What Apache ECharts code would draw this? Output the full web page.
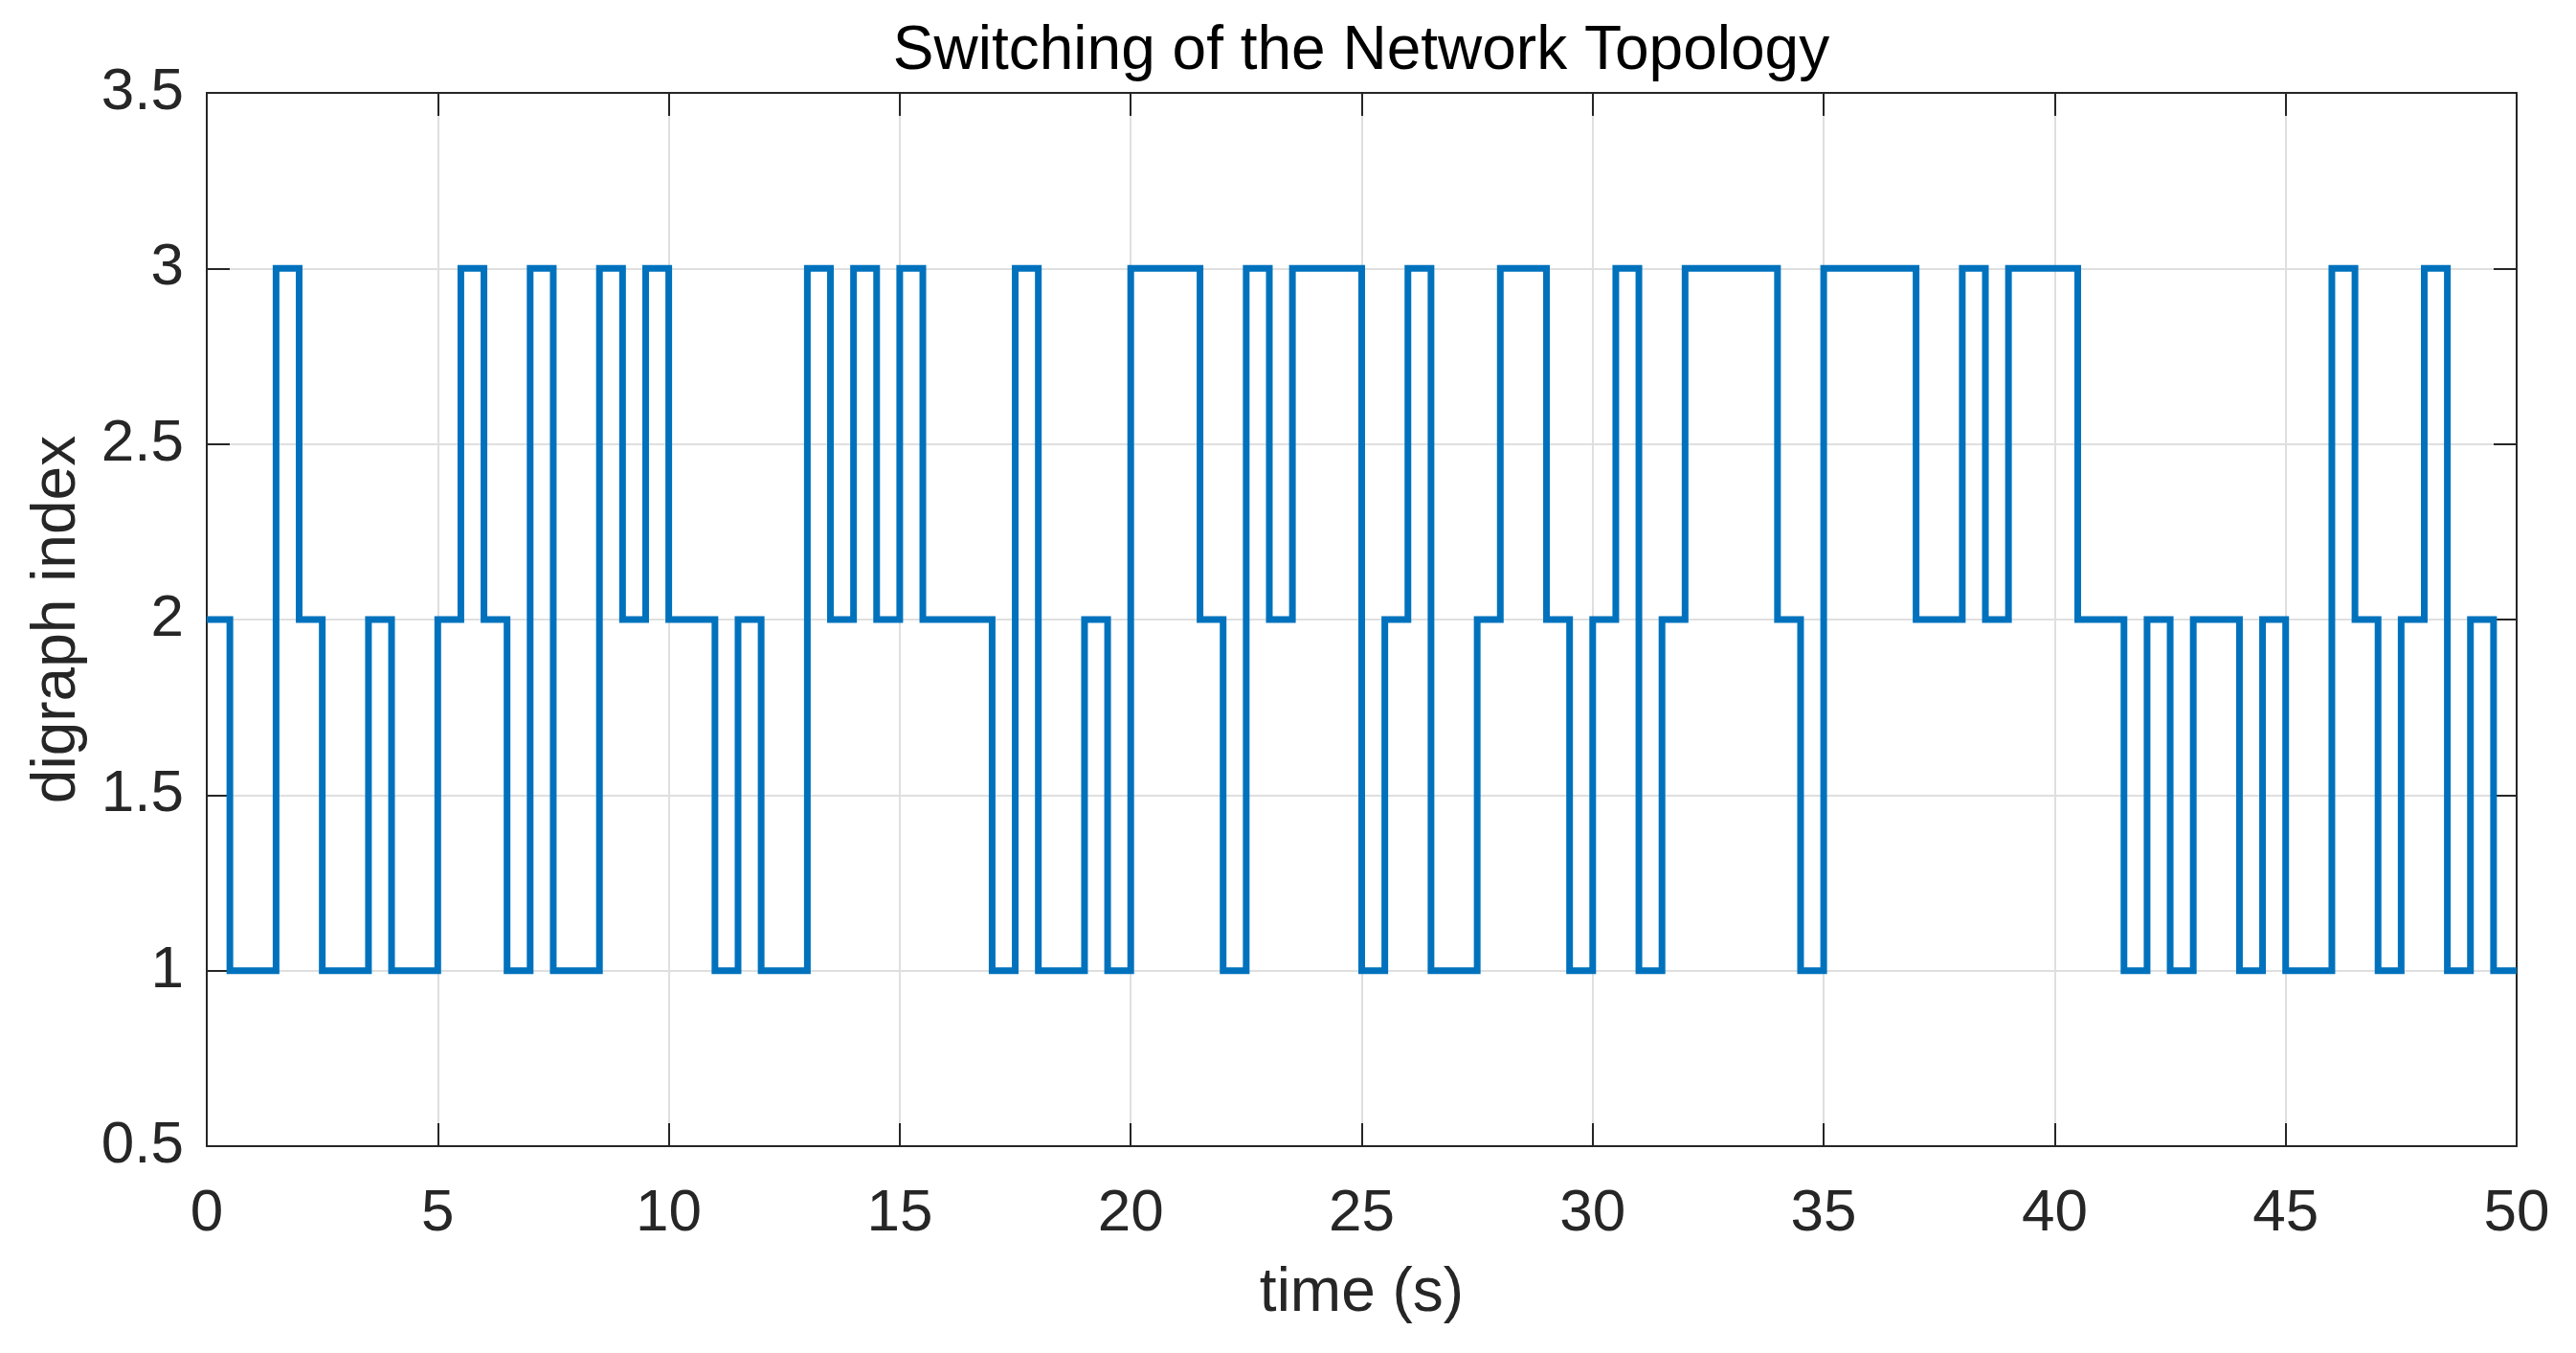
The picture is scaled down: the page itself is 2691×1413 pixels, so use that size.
<!DOCTYPE html>
<html>
<head>
<meta charset="utf-8">
<title>Switching of the Network Topology</title>
<script src="https://cdn.jsdelivr.net/npm/echarts@6/dist/echarts.min.js"></script>
<style>
  html, body { margin: 0; padding: 0; background: #fff; }
  #chart { width: 2691px; height: 1413px; }
</style>
</head>
<body>
<div id="chart"></div>
<script>
// digraph index held over each 0.5 s interval
var sampleStep = 0.5;
var seg0to10  = [2, 1, 1, 3, 2, 1, 1, 2, 1, 1, 2, 3, 2, 1, 3, 1, 1, 3, 2, 3];
var seg10to20 = [2, 2, 1, 2, 1, 1, 3, 2, 3, 2, 3, 2, 2, 2, 1, 3, 1, 1, 2, 1];
var seg20to30 = [3, 3, 3, 2, 1, 3, 2, 3, 3, 3, 1, 2, 3, 1, 1, 2, 3, 3, 2, 1];
var seg30to40 = [2, 3, 1, 2, 3, 3, 3, 3, 2, 1, 3, 3, 3, 3, 2, 2, 3, 2, 3, 3];
var seg40to50 = [3, 2, 2, 1, 2, 1, 2, 2, 1, 2, 1, 1, 3, 2, 1, 2, 3, 1, 2, 1];
var endTime = 50;

var xTicks = { min: 0, max: 50, interval: 5 };
var yTicks = { min: 0.5, max: 3.5, interval: 0.5 };

// stairs data: each value starts at its sample time, last one held to the end
var levels = [].concat(seg0to10, seg10to20, seg20to30, seg30to40, seg40to50);
var stairs = [];
for (var i = 0; i < levels.length; i++) {
  stairs.push([i * sampleStep, levels[i]]);
}
stairs.push([endTime, levels[levels.length - 1]]);

var axisColor = '#262626';
var fontFamily = '"Liberation Sans", Arial, Helvetica, sans-serif';

var chart = echarts.init(document.getElementById('chart'));

var tickStyle = { show: true, inside: true, length: 24, lineStyle: { color: axisColor, width: 2 } };
var lineStyle = { show: true, onZero: false, lineStyle: { color: axisColor, width: 2 } };

var option = {
  animation: false,
  backgroundColor: '#ffffff',
  title: {
    text: 'Switching of the Network Topology',
    left: 1422,
    top: 22,
    padding: 0,
    textAlign: 'center',
    textStyle: { fontFamily: fontFamily, fontSize: 64, fontWeight: 'normal', color: '#000000' }
  },
  grid: { left: 216, right: 62, top: 97, bottom: 216, containLabel: false },
  xAxis: [{
    type: 'value',
    min: xTicks.min, max: xTicks.max, interval: xTicks.interval,
    name: 'time (s)',
    nameLocation: 'middle',
    nameGap: 122,
    nameTextStyle: { fontFamily: fontFamily, fontSize: 64, color: axisColor },
    axisLine: lineStyle,
    axisTick: tickStyle,
    axisLabel: { fontFamily: fontFamily, fontSize: 62, color: axisColor, margin: 40 },
    splitLine: { show: true, lineStyle: { color: '#dfdfdf', width: 2 } }
  }, {
    type: 'value',
    position: 'top',
    min: xTicks.min, max: xTicks.max, interval: xTicks.interval,
    axisLine: lineStyle,
    axisTick: tickStyle,
    axisLabel: { show: false },
    splitLine: { show: false }
  }],
  yAxis: [{
    type: 'value',
    min: yTicks.min, max: yTicks.max, interval: yTicks.interval,
    name: 'digraph index',
    nameLocation: 'middle',
    nameGap: 124,
    nameTextStyle: { fontFamily: fontFamily, fontSize: 64, color: axisColor },
    axisLine: lineStyle,
    axisTick: tickStyle,
    axisLabel: { fontFamily: fontFamily, fontSize: 62, color: axisColor, margin: 24 },
    splitLine: { show: true, lineStyle: { color: '#dfdfdf', width: 2 } }
  }, {
    type: 'value',
    position: 'right',
    min: yTicks.min, max: yTicks.max, interval: yTicks.interval,
    axisLine: lineStyle,
    axisTick: tickStyle,
    axisLabel: { show: false },
    splitLine: { show: false }
  }],
  series: [{
    name: 'digraph index',
    type: 'line',
    step: 'end',
    xAxisIndex: 0,
    yAxisIndex: 0,
    data: stairs,
    showSymbol: false,
    symbol: 'none',
    lineStyle: { color: '#0072BD', width: 7, join: 'miter', cap: 'butt' }
  }]
};

chart.setOption(option);
</script>
</body>
</html>
